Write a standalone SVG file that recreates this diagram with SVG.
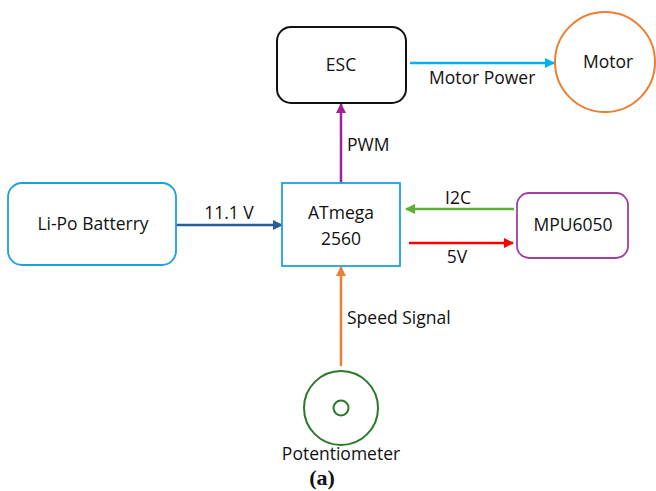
<svg xmlns="http://www.w3.org/2000/svg" width="656" height="491" viewBox="0 0 656 491">
<style>
text{font-family:"Open Sans","Liberation Sans",sans-serif;font-size:17.5px;fill:#111}
.c{text-anchor:middle}
.ln{fill:none;stroke-width:2.5}
</style>
<defs>
<marker id="aCy" viewBox="0 0 10 10" refX="9" refY="5" markerWidth="4" markerHeight="4" orient="auto"><path d="M0,0L10,5L0,10z" fill="#00b0f0"/></marker>
<marker id="aPu" viewBox="0 0 10 10" refX="9" refY="5" markerWidth="4" markerHeight="4" orient="auto"><path d="M0,0L10,5L0,10z" fill="#a0209c"/></marker>
<marker id="aBl" viewBox="0 0 10 10" refX="9" refY="5" markerWidth="4" markerHeight="4" orient="auto"><path d="M0,0L10,5L0,10z" fill="#2a5d9c"/></marker>
<marker id="aGr" viewBox="0 0 10 10" refX="9" refY="5" markerWidth="4" markerHeight="4" orient="auto"><path d="M0,0L10,5L0,10z" fill="#5cb034"/></marker>
<marker id="aRd" viewBox="0 0 10 10" refX="9" refY="5" markerWidth="4" markerHeight="4" orient="auto"><path d="M0,0L10,5L0,10z" fill="#ff0000"/></marker>
<marker id="aOr" viewBox="0 0 10 10" refX="9" refY="5" markerWidth="4" markerHeight="4" orient="auto"><path d="M0,0L10,5L0,10z" fill="#ed7d31"/></marker>
</defs>
<g id="connectors">
<line class="ln" x1="410" y1="63" x2="554" y2="63" stroke="#00b0f0" marker-end="url(#aCy)"/>
<text x="429" y="84">Motor Power</text>
<line class="ln" x1="341" y1="183" x2="341" y2="104" stroke="#a0209c" marker-end="url(#aPu)"/>
<text x="347" y="151">PWM</text>
<line class="ln" x1="176" y1="225" x2="282" y2="225" stroke="#2a5d9c" marker-end="url(#aBl)"/>
<text x="229" y="219" class="c">11.1 V</text>
<line class="ln" x1="514" y1="209" x2="406" y2="209" stroke="#5cb034" marker-end="url(#aGr)"/>
<text x="458" y="204" class="c">I2C</text>
<line class="ln" x1="409" y1="243" x2="513" y2="243" stroke="#ff0000" marker-end="url(#aRd)"/>
<text x="457" y="263" class="c">5V</text>
<line class="ln" x1="341" y1="366" x2="341" y2="267" stroke="#ed7d31" marker-end="url(#aOr)"/>
<text x="347" y="324">Speed Signal</text>
</g>
<g id="esc">
<rect x="277" y="27" width="129" height="76" rx="14" fill="#fff" stroke="#111" stroke-width="2"/>
<text x="341" y="71" class="c">ESC</text>
</g>
<g id="motor">
<circle cx="605" cy="62" r="50" fill="#fff" stroke="#ed7d31" stroke-width="2"/>
<text x="608" y="68" class="c">Motor</text>
</g>
<g id="atmega">
<rect x="282" y="183" width="118" height="83" fill="#fff" stroke="#1ea0dc" stroke-width="1.8"/>
<text x="341" y="219" class="c">ATmega</text>
<text x="341" y="245" class="c">2560</text>
</g>
<g id="lipo">
<rect x="8" y="183" width="168" height="82" rx="14" fill="#fff" stroke="#1ea0dc" stroke-width="1.8"/>
<text x="93" y="230" class="c">Li-Po Batterry</text>
</g>
<g id="mpu">
<rect x="517" y="193" width="111" height="65" rx="12" fill="#fff" stroke="#a040a0" stroke-width="1.8"/>
<text x="573" y="231" class="c">MPU6050</text>
</g>
<g id="potentiometer">
<circle cx="341" cy="408" r="37" fill="#fff" stroke="#2a7a2a" stroke-width="2"/>
<circle cx="341" cy="408" r="7.5" fill="none" stroke="#2a7a2a" stroke-width="2"/>
<text x="341" y="460" class="c">Potentiometer</text>
</g>
<text x="322" y="485" class="c" style="font-family:'Liberation Serif',serif;font-weight:bold;font-size:22px">(a)</text>
</svg>
